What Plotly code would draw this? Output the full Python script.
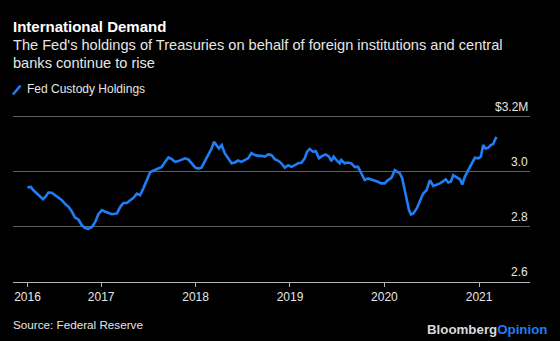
import plotly.graph_objects as go

# Fed custody holdings of Treasuries for foreign official institutions ($ trillions)
dates = [
    "2016-03-22", "2016-04-04", "2016-04-14", "2016-04-27", "2016-05-10", "2016-05-21",
    "2016-05-30", "2016-06-11", "2016-06-24", "2016-07-07", "2016-07-20", "2016-08-02",
    "2016-08-15", "2016-08-28", "2016-09-10", "2016-09-22", "2016-10-05", "2016-10-18",
    "2016-10-31", "2016-11-12", "2016-11-26", "2016-12-09", "2016-12-21", "2017-01-04",
    "2017-01-17", "2017-01-30", "2017-02-11", "2017-03-03", "2017-03-16", "2017-03-28",
    "2017-04-10", "2017-04-23", "2017-05-05", "2017-05-19", "2017-05-31", "2017-06-13",
    "2017-06-26", "2017-07-09", "2017-07-17", "2017-07-28", "2017-08-10", "2017-08-23",
    "2017-09-05", "2017-09-18", "2017-10-01", "2017-10-14", "2017-10-26", "2017-11-08",
    "2017-11-21", "2017-12-04", "2017-12-17", "2017-12-30", "2018-01-11", "2018-01-24",
    "2018-02-06", "2018-02-19", "2018-03-04", "2018-03-13", "2018-03-23", "2018-04-01",
    "2018-04-12", "2018-04-24", "2018-05-07", "2018-05-20", "2018-06-02", "2018-06-14",
    "2018-06-27", "2018-07-10", "2018-07-23", "2018-08-05", "2018-08-18", "2018-08-31",
    "2018-09-13", "2018-09-26", "2018-10-08", "2018-10-21", "2018-11-03", "2018-11-10",
    "2018-11-23", "2018-12-05", "2018-12-12", "2018-12-25", "2019-01-07", "2019-01-20",
    "2019-02-01", "2019-02-14", "2019-02-27", "2019-03-08", "2019-03-18", "2019-03-31",
    "2019-04-11", "2019-04-23", "2019-05-06", "2019-05-19", "2019-06-01", "2019-06-10",
    "2019-06-19", "2019-06-29", "2019-07-12", "2019-07-18", "2019-07-31", "2019-08-13",
    "2019-08-26", "2019-09-08", "2019-09-21", "2019-10-04", "2019-10-17", "2019-10-30",
    "2019-11-12", "2019-11-25", "2019-12-07", "2019-12-20", "2020-01-02", "2020-01-15",
    "2020-01-28", "2020-02-10", "2020-02-22", "2020-03-01", "2020-03-10", "2020-03-18",
    "2020-03-27", "2020-04-05", "2020-04-13", "2020-04-22", "2020-05-05", "2020-05-18",
    "2020-05-30", "2020-06-12", "2020-06-25", "2020-07-08", "2020-07-21", "2020-08-03",
    "2020-08-16", "2020-08-25", "2020-09-04", "2020-09-14", "2020-09-23", "2020-10-06",
    "2020-10-19", "2020-10-28", "2020-11-07", "2020-11-20", "2020-12-03", "2020-12-16",
    "2020-12-29", "2021-01-08", "2021-01-17", "2021-01-26", "2021-02-05", "2021-02-15",
    "2021-02-24", "2021-03-09",
]
holdings = [
    2.943, 2.945, 2.933, 2.921, 2.909, 2.901,
    2.909, 2.925, 2.924, 2.915, 2.905, 2.897,
    2.883, 2.873, 2.855, 2.834, 2.827, 2.806,
    2.796, 2.793, 2.800, 2.818, 2.846, 2.861,
    2.855, 2.849, 2.846, 2.849, 2.873, 2.887,
    2.887, 2.897, 2.905, 2.921, 2.915, 2.940,
    2.970, 2.998, 3.002, 3.006, 3.012, 3.018,
    3.036, 3.052, 3.046, 3.036, 3.039, 3.045,
    3.049, 3.045, 3.031, 3.016, 3.012, 3.015,
    3.039, 3.063, 3.085, 3.109, 3.095, 3.085,
    3.097, 3.067, 3.049, 3.031, 3.034, 3.041,
    3.036, 3.043, 3.049, 3.068, 3.061, 3.058,
    3.058, 3.055, 3.063, 3.061, 3.046, 3.043,
    3.036, 3.024, 3.015, 3.024, 3.018, 3.024,
    3.031, 3.033, 3.049, 3.073, 3.083, 3.073,
    3.075, 3.049, 3.058, 3.063, 3.055, 3.039,
    3.055, 3.043, 3.031, 3.043, 3.031, 3.034,
    3.031, 3.018, 3.018, 2.994, 2.970, 2.976,
    2.972, 2.970, 2.964, 2.958, 2.958, 2.970,
    2.978, 3.006, 2.998, 2.994, 2.976, 2.940,
    2.897, 2.861, 2.845, 2.849, 2.867, 2.897,
    2.921, 2.933, 2.970, 2.949, 2.954, 2.958,
    2.966, 2.973, 2.961, 2.964, 2.988, 2.982,
    2.973, 2.954, 2.982, 3.006, 3.031, 3.051,
    3.049, 3.055, 3.097, 3.085, 3.087, 3.097,
    3.100, 3.127,
]

# Axis ticks and labels
x_tick_dates = ["2016-03-22", "2017-01-01", "2018-01-01", "2019-01-01", "2020-01-01", "2021-01-01"]
x_tick_labels = ["2016", "2017", "2018", "2019", "2020", "2021"]
y_tick_values = [2.6, 2.8, 3.0, 3.2]
y_tick_labels = ["2.6", "2.8", "3.0", "$3.2M"]

BLUE = "#1f7df5"
TEXT = "#e6e6e6"
FONT = "Liberation Sans, Arial, sans-serif"

W, H = 560, 341
ML, MR, MT, MB = 13, 30, 114, 59
PLOT_W = W - ML - MR
PLOT_H = H - MT - MB


def px_x(px):
    """Figure pixel column -> paper x (relative to the plot area)."""
    return (px - ML) / PLOT_W


def px_y(py):
    """Figure pixel row -> paper y (relative to the plot area)."""
    return (H - MB - py) / PLOT_H


fig = go.Figure()
fig.add_trace(go.Scatter(
    x=dates, y=holdings, mode="lines",
    line=dict(color=BLUE, width=2.6),
    name="Fed Custody Holdings", showlegend=False,
    hoverinfo="x+y",
))

fig.update_layout(
    width=W, height=H,
    paper_bgcolor="#000000", plot_bgcolor="#000000",
    margin=dict(l=ML, r=MR, t=MT, b=MB),
    font=dict(family=FONT, color=TEXT, size=12),
    xaxis=dict(
        range=["2016-01-26", "2021-07-17"],
        tickvals=x_tick_dates, ticktext=x_tick_labels,
        showgrid=False, zeroline=False,
        showline=True, linecolor="#b5b5b5", linewidth=1,
        ticks="outside", ticklen=4, tickcolor="#b5b5b5", tickwidth=1,
        tickfont=dict(size=12, color=TEXT, family=FONT),
    ),
    yaxis=dict(
        range=[2.6, 3.21],
        tickvals=y_tick_values, showticklabels=False,
        showgrid=True, gridcolor="#5e5e5e", gridwidth=1,
        zeroline=False, showline=False, ticks="",
    ),
)

# Value labels sit above each gridline at the right edge
annotations = []
for v, lab in zip(y_tick_values, y_tick_labels):
    annotations.append(dict(
        x=1.0, xref="paper", y=v, yref="y", text=lab, showarrow=False,
        xanchor="right", yanchor="bottom", yshift=1,
        font=dict(size=12, color=TEXT, family=FONT),
    ))

# Headline, subtitle, legend text and source (positions are text centre rows)
header = [
    dict(text="<b>International Demand</b>", x=11, y=26, size=15, color="#ffffff"),
    dict(text="The Fed's holdings of Treasuries on behalf of foreign institutions and central",
         x=11, y=45, size=14.6, color=TEXT),
    dict(text="banks continue to rise", x=11, y=63, size=14.6, color=TEXT),
    dict(text="Fed Custody Holdings", x=25, y=89, size=12, color=TEXT),
    dict(text="Source: Federal Reserve", x=11, y=324, size=11.7, color=TEXT),
]
for h in header:
    annotations.append(dict(
        text=h["text"], x=px_x(h["x"]), y=px_y(h["y"]), xref="paper", yref="paper",
        xanchor="left", yanchor="middle", showarrow=False,
        font=dict(size=h["size"], color=h["color"], family=FONT),
    ))
annotations.append(dict(
    text="<b>Bloomberg</b><b><span style='color:#1f7df5'>Opinion</span></b>",
    x=px_x(549), y=px_y(329), xref="paper", yref="paper",
    xanchor="right", yanchor="middle", showarrow=False,
    font=dict(size=13.3, color="#d9d9d9", family=FONT),
))
fig.update_layout(annotations=annotations)

# Legend key: a short slanted stroke in the series colour
fig.add_shape(
    type="line", xref="paper", yref="paper",
    x0=px_x(13), y0=px_y(94.5), x1=px_x(20.5), y1=px_y(85.5),
    line=dict(color=BLUE, width=2.6),
)

fig.write_html("out.html")
